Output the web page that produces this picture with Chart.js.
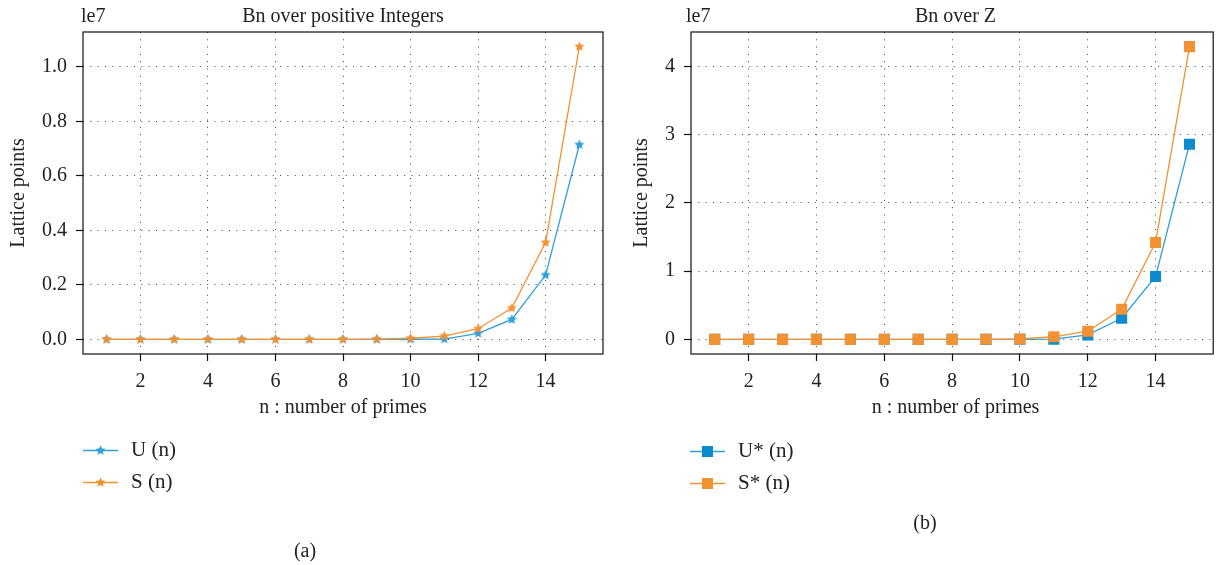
<!DOCTYPE html>
<html>
<head>
<meta charset="utf-8">
<script src="https://cdn.jsdelivr.net/npm/chart.js@4.4.0/dist/chart.umd.min.js"></script>
<style>
  html, body { margin: 0; padding: 0; background: #fff; }
  #wrap { position: relative; width: 1221px; height: 565px; overflow: hidden; }
  canvas { position: absolute; top: 0; }
</style>
</head>
<body>
<div id="wrap">
  <canvas id="chartA" width="610" height="565" style="left:0"></canvas>
  <canvas id="chartB" width="611" height="565" style="left:610px"></canvas>
</div>
<script>
// n : number of primes
const nValues = [1, 2, 3, 4, 5, 6, 7, 8, 9, 10, 11, 12, 13, 14, 15];

// (a) Bn over positive Integers
const uValues = [0, 0, 0, 0, 0, 0, 0, 0, 0, 5000, 10000, 220000, 730000, 2360000, 7140000];
const sValues = [0, 0, 0, 0, 0, 0, 0, 0, 10000, 40000, 120000, 390000, 1150000, 3550000, 10740000];

// (b) Bn over Z
const uStarValues = [0, 0, 0, 0, 0, 0, 0, 0, 0, 10000, 30000, 650000, 3100000, 9200000, 28600000];
const sStarValues = [0, 0, 0, 0, 0, 0, 0, 0, 10000, 50000, 380000, 1200000, 4400000, 14200000, 42900000];

const xTicks = [2, 4, 6, 8, 10, 12, 14];
const yTicksA = [0, 2000000, 4000000, 6000000, 8000000, 10000000];
const yTicksB = [0, 10000000, 20000000, 30000000, 40000000];

const FONT = '"Liberation Serif", "Times New Roman", serif';
const TXT = '#222';
const BLUE = '#2f9fd9';
const BLUE_MK = '#0b8bcb';
const ORANGE = '#f39232';

function makeStar(color, r) {
  const s = Math.ceil(r * 2) + 2;
  const c = document.createElement('canvas');
  c.width = s; c.height = s;
  const g = c.getContext('2d');
  g.fillStyle = color;
  g.beginPath();
  for (let i = 0; i < 10; i++) {
    const rad = i % 2 === 0 ? r : r * 0.47;
    const a = -Math.PI / 2 + i * Math.PI / 5;
    const px = s / 2 + rad * Math.cos(a), py = s / 2 + rad * Math.sin(a);
    if (i === 0) g.moveTo(px, py); else g.lineTo(px, py);
  }
  g.closePath();
  g.fill();
  return c;
}

const starBlue = makeStar(BLUE, 5.3);
const starOrange = makeStar(ORANGE, 5.3);

function pts(vals) {
  return nValues.map((n, i) => ({ x: n, y: vals[i] }));
}

// matplotlib style 5% margins
function range(arrs) {
  const all = [].concat(...arrs);
  const mn = Math.min(...all), mx = Math.max(...all);
  const m = (mx - mn) * 0.05;
  return { min: mn - m, max: mx + m };
}

const framePlugin = {
  id: 'frame',
  beforeDatasetsDraw(chart) {
    const { ctx, chartArea: a } = chart;
    ctx.save();
    ctx.strokeStyle = '#111';
    ctx.lineWidth = 1.2;
    ctx.strokeRect(a.left, a.top, a.right - a.left, a.bottom - a.top);
    ctx.restore();
  }
};

const textPlugin = {
  id: 'extraText',
  afterDraw(chart, args, o) {
    const ctx = chart.ctx;
    ctx.save();
    ctx.fillStyle = TXT;
    ctx.font = '20px ' + FONT;
    ctx.textBaseline = 'middle';

    ctx.textAlign = 'left';
    ctx.fillText('le7', o.offX, 17);
    ctx.textAlign = 'center';
    ctx.fillText(o.title, o.cx, 17);
    ctx.fillText('n : number of primes', o.cx, 408);
    ctx.fillText(o.caption, o.capX, o.capY);

    ctx.save();
    ctx.translate(o.yTitleX, 193);
    ctx.rotate(-Math.PI / 2);
    ctx.fillText('Lattice points', 0, 0);
    ctx.restore();

    // legend
    ctx.font = '21px ' + FONT;
    o.legend.forEach((it, i) => {
      const y = o.legY[i];
      ctx.strokeStyle = it.color;
      ctx.lineWidth = 1.4;
      ctx.beginPath();
      ctx.moveTo(o.legX, y);
      ctx.lineTo(o.legX + 35, y);
      ctx.stroke();
      const mx = o.legX + 17.5;
      if (it.star) {
        ctx.drawImage(it.star, mx - it.star.width / 2, y - it.star.height / 2);
      } else {
        ctx.fillStyle = it.marker;
        ctx.fillRect(mx - 5.5, y - 5.5, 11, 11);
      }
      ctx.fillStyle = TXT;
      ctx.textAlign = 'left';
      ctx.fillText(it.label, o.legX + 48, y);
    });
    ctx.restore();
  }
};

function makeChart(id, datasets, yTicks, yFmt, plotLeft, padRight, extra) {
  const yr = range(datasets.map(d => d.data.map(p => p.y)));
  return new Chart(document.getElementById(id), {
    type: 'line',
    data: { datasets },
    plugins: [framePlugin, textPlugin],
    options: {
      responsive: false,
      animation: false,
      layout: { padding: { left: 0, right: padRight, top: 32, bottom: 0 } },
      plugins: {
        legend: { display: false },
        tooltip: { enabled: false },
        extraText: extra
      },
      scales: {
        x: {
          type: 'linear',
          min: 0.3,
          max: 15.7,
          afterBuildTicks: s => { s.ticks = xTicks.map(v => ({ value: v })); },
          afterFit: s => { s.height = 211; },
          ticks: { color: TXT, font: { family: FONT, size: 20 }, padding: 9, maxRotation: 0 },
          grid: { color: '#444', lineWidth: 1, tickLength: 7, tickColor: '#111', tickWidth: 1.2, tickBorderDash: [] },
          border: { display: false, dash: [1, 6.3] }
        },
        y: {
          type: 'linear',
          min: yr.min,
          max: yr.max,
          afterBuildTicks: s => { s.ticks = yTicks.map(v => ({ value: v })); },
          afterFit: s => { s.width = plotLeft; },
          ticks: { color: TXT, font: { family: FONT, size: 20 }, padding: 9, callback: yFmt },
          grid: { color: '#444', lineWidth: 1, tickLength: 7, tickColor: '#111', tickWidth: 1.2, tickBorderDash: [] },
          border: { display: false, dash: [1, 6.3] }
        }
      }
    }
  });
}

makeChart('chartA', [
  { label: 'U (n)', data: pts(uValues), borderColor: BLUE, borderWidth: 1.3, pointStyle: starBlue, order: 2 },
  { label: 'S (n)', data: pts(sValues), borderColor: ORANGE, borderWidth: 1.3, pointStyle: starOrange, order: 1 }
], yTicksA, v => (v / 1e7).toFixed(1), 83, 7, {
  offX: 81, title: 'Bn over positive Integers', cx: 343, caption: '(a)', capX: 305, capY: 552,
  yTitleX: 18.5, legX: 83, legY: [450.5, 482.5],
  legend: [
    { label: 'U (n)', color: BLUE, star: starBlue },
    { label: 'S (n)', color: ORANGE, star: starOrange }
  ]
});

makeChart('chartB', [
  { label: 'U* (n)', data: pts(uStarValues), borderColor: BLUE, borderWidth: 1.3, pointStyle: 'rect',
    pointRadius: 7.8, pointBackgroundColor: BLUE_MK, pointBorderWidth: 0, order: 2 },
  { label: 'S* (n)', data: pts(sStarValues), borderColor: ORANGE, borderWidth: 1.3, pointStyle: 'rect',
    pointRadius: 7.8, pointBackgroundColor: ORANGE, pointBorderWidth: 0, order: 1 }
], yTicksB, v => (v / 1e7).toFixed(0), 81, 1, {
  offX: 76, title: 'Bn over Z', cx: 345.5, caption: '(b)', capX: 315, capY: 524,
  yTitleX: 31.5, legX: 80, legY: [451.5, 483.5],
  legend: [
    { label: 'U* (n)', color: BLUE, marker: BLUE_MK },
    { label: 'S* (n)', color: ORANGE, marker: ORANGE }
  ]
});
</script>
</body>
</html>
